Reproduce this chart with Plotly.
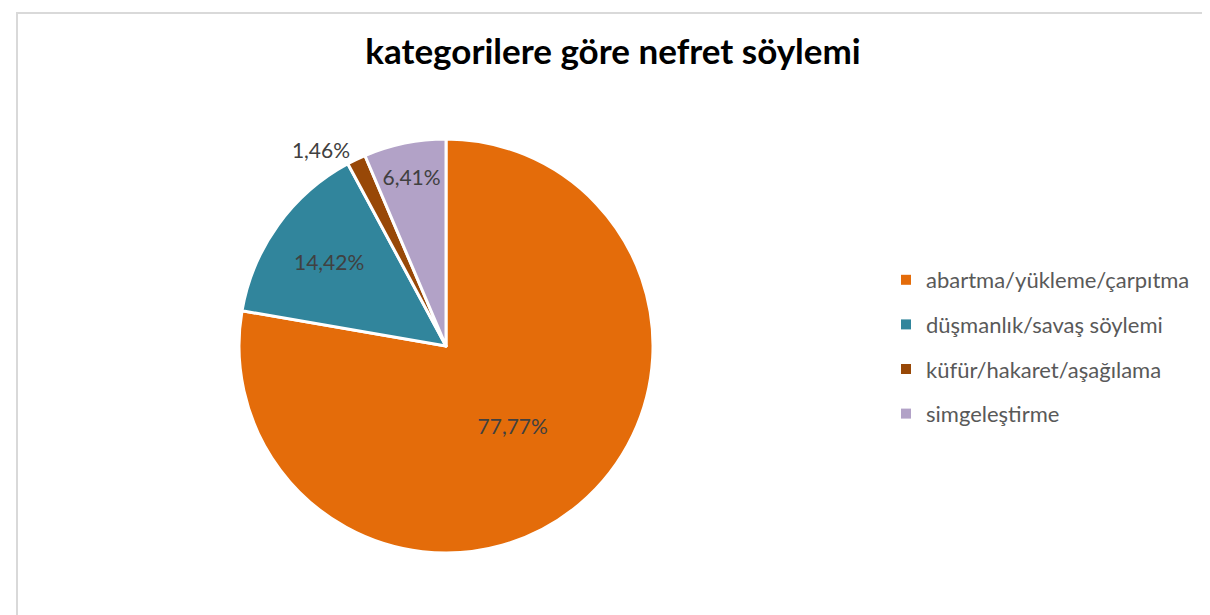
import plotly.graph_objects as go

categories = ["abartma/yükleme/çarpıtma", "düşmanlık/savaş söylemi",
              "küfür/hakaret/aşağılama", "simgeleştirme"]
values = [77.77, 14.42, 1.46, 6.41]
colors = ["#E46C0A", "#31859C", "#984807", "#B2A2C7"]
label_pos = ["inside", "inside", "outside", "inside"]
title_text = "kategorilere göre nefret söylemi"

FONT = "Lato"

fig = go.Figure()
fig.add_trace(go.Pie(
    labels=categories, values=values, sort=False, direction="clockwise",
    rotation=0,
    marker=dict(colors=colors, line=dict(color="white", width=3)),
    texttemplate="%{value:.2f}%",
    textposition=label_pos,
    insidetextorientation="horizontal",
    textfont=dict(family=FONT, size=21, color="#404040"),
    showlegend=False,
    domain=dict(x=[0.1975 - 8/1210, 0.5397 - 8/1210],
                y=[0.1008 + 8/615, 0.774 + 8/615]),
    hoverinfo="label+percent",
))

for c, col in zip(categories, colors):
    fig.add_trace(go.Scatter(
        x=[None], y=[None], mode="markers", name=c, legendgroup=c,
        marker=dict(symbol="square", size=10, color=col),
    ))

fig.update_layout(
    width=1210, height=615,
    separators=",.",
    paper_bgcolor="white", plot_bgcolor="white",
    margin=dict(l=0, r=0, t=0, b=0),
    title=dict(text=f"<b>{title_text}</b>", x=0.5, xanchor="center",
               y=1 - 44/615, yanchor="middle",
               font=dict(family=FONT, size=35, color="black")),
    xaxis=dict(visible=False), yaxis=dict(visible=False),
    legend=dict(x=878/1210, y=1 - 339/615, xanchor="left", yanchor="middle",
                font=dict(family=FONT, size=22, color="#595959"),
                tracegroupgap=13, itemwidth=30),
    shapes=[dict(type="rect", xref="paper", yref="paper",
                 x0=9/1210, x1=1.02, y0=-0.05, y1=1-5/615,
                 line=dict(color="#D9D9D9", width=2))],
)

fig.write_html("out.html")
